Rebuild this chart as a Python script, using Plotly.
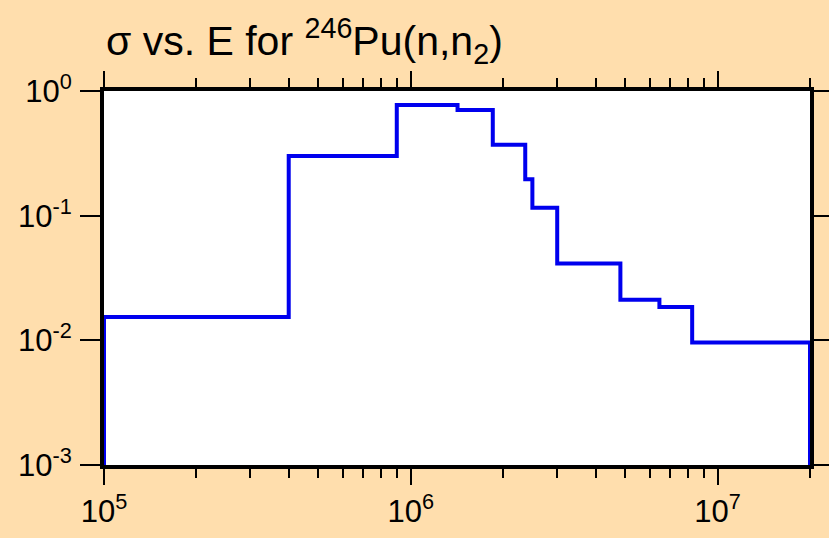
import plotly.graph_objects as go

# step edges (eV) and cross-section levels (b)
energy = [1e5, 1e5, 4.0e5, 9.0e5, 1.42e6, 1.85e6, 2.36e6, 2.49e6, 3.0e6, 4.82e6, 6.46e6, 8.26e6, 2e7, 2e7]
sigma = [1e-3, 0.0154, 0.301, 0.772, 0.704, 0.371, 0.196, 0.116, 0.0414, 0.0212, 0.0185, 0.0096, 0.0096, 1e-3]

x_major = [1e5, 1e6, 1e7]
x_major_text = ["10<sup>5</sup>", "10<sup>6</sup>", "10<sup>7</sup>"]
x_minor = [m * d for d in (1e5, 1e6) for m in range(2, 10)] + [2e7]
y_major = [1e-3, 1e-2, 1e-1, 1]
y_major_text = ["10<sup>-3</sup>", "10<sup>-2</sup>", "10<sup>-1</sup>", "10<sup>0</sup>"]

FONT = "Arial, Liberation Sans, sans-serif"

fig = go.Figure(go.Scatter(
    x=energy, y=sigma, mode="lines", line_shape="hv",
    line=dict(color="#0000EE", width=4), showlegend=False, hoverinfo="none"
))

fig.update_layout(
    width=829, height=538,
    margin=dict(l=104, r=19, t=91, b=73, autoexpand=False),
    paper_bgcolor="#FFDEAD", plot_bgcolor="white",
    font=dict(family=FONT, size=30, color="black"),
    title=dict(text="σ vs. E for <sup>246</sup>Pu(n,n<sub>2</sub>)",
               x=106 / 829, xanchor="left", xref="container",
               y=1 - 41 / 538, yanchor="middle", yref="container",
               font=dict(family=FONT, size=41, color="black")),
    xaxis=dict(type="log", range=[5, 7.30103], tickvals=x_major, ticktext=x_major_text,
               tickfont=dict(family=FONT, size=31, color="black"), automargin=False,
               ticks="outside", ticklen=16, tickwidth=2, tickcolor="black",
               minor=dict(tickvals=x_minor, ticks="outside", ticklen=9, tickwidth=2, tickcolor="black"),
               showline=True, linewidth=4, linecolor="black", mirror="ticks",
               showgrid=False, zeroline=False),
    yaxis=dict(type="log", range=[-3, 0], tickvals=y_major, ticktext=y_major_text,
               tickfont=dict(family=FONT, size=31, color="black"), automargin=False,
               ticks="outside", ticklen=20, tickwidth=2, tickcolor="black",
               ticklabelstandoff=2,
               showline=True, linewidth=4, linecolor="black", mirror="ticks",
               showgrid=False, zeroline=False),
)

fig.write_html("out.html", config={"displayModeBar": False},
               post_script="document.body.style.margin='0';document.body.style.overflow='hidden';")
